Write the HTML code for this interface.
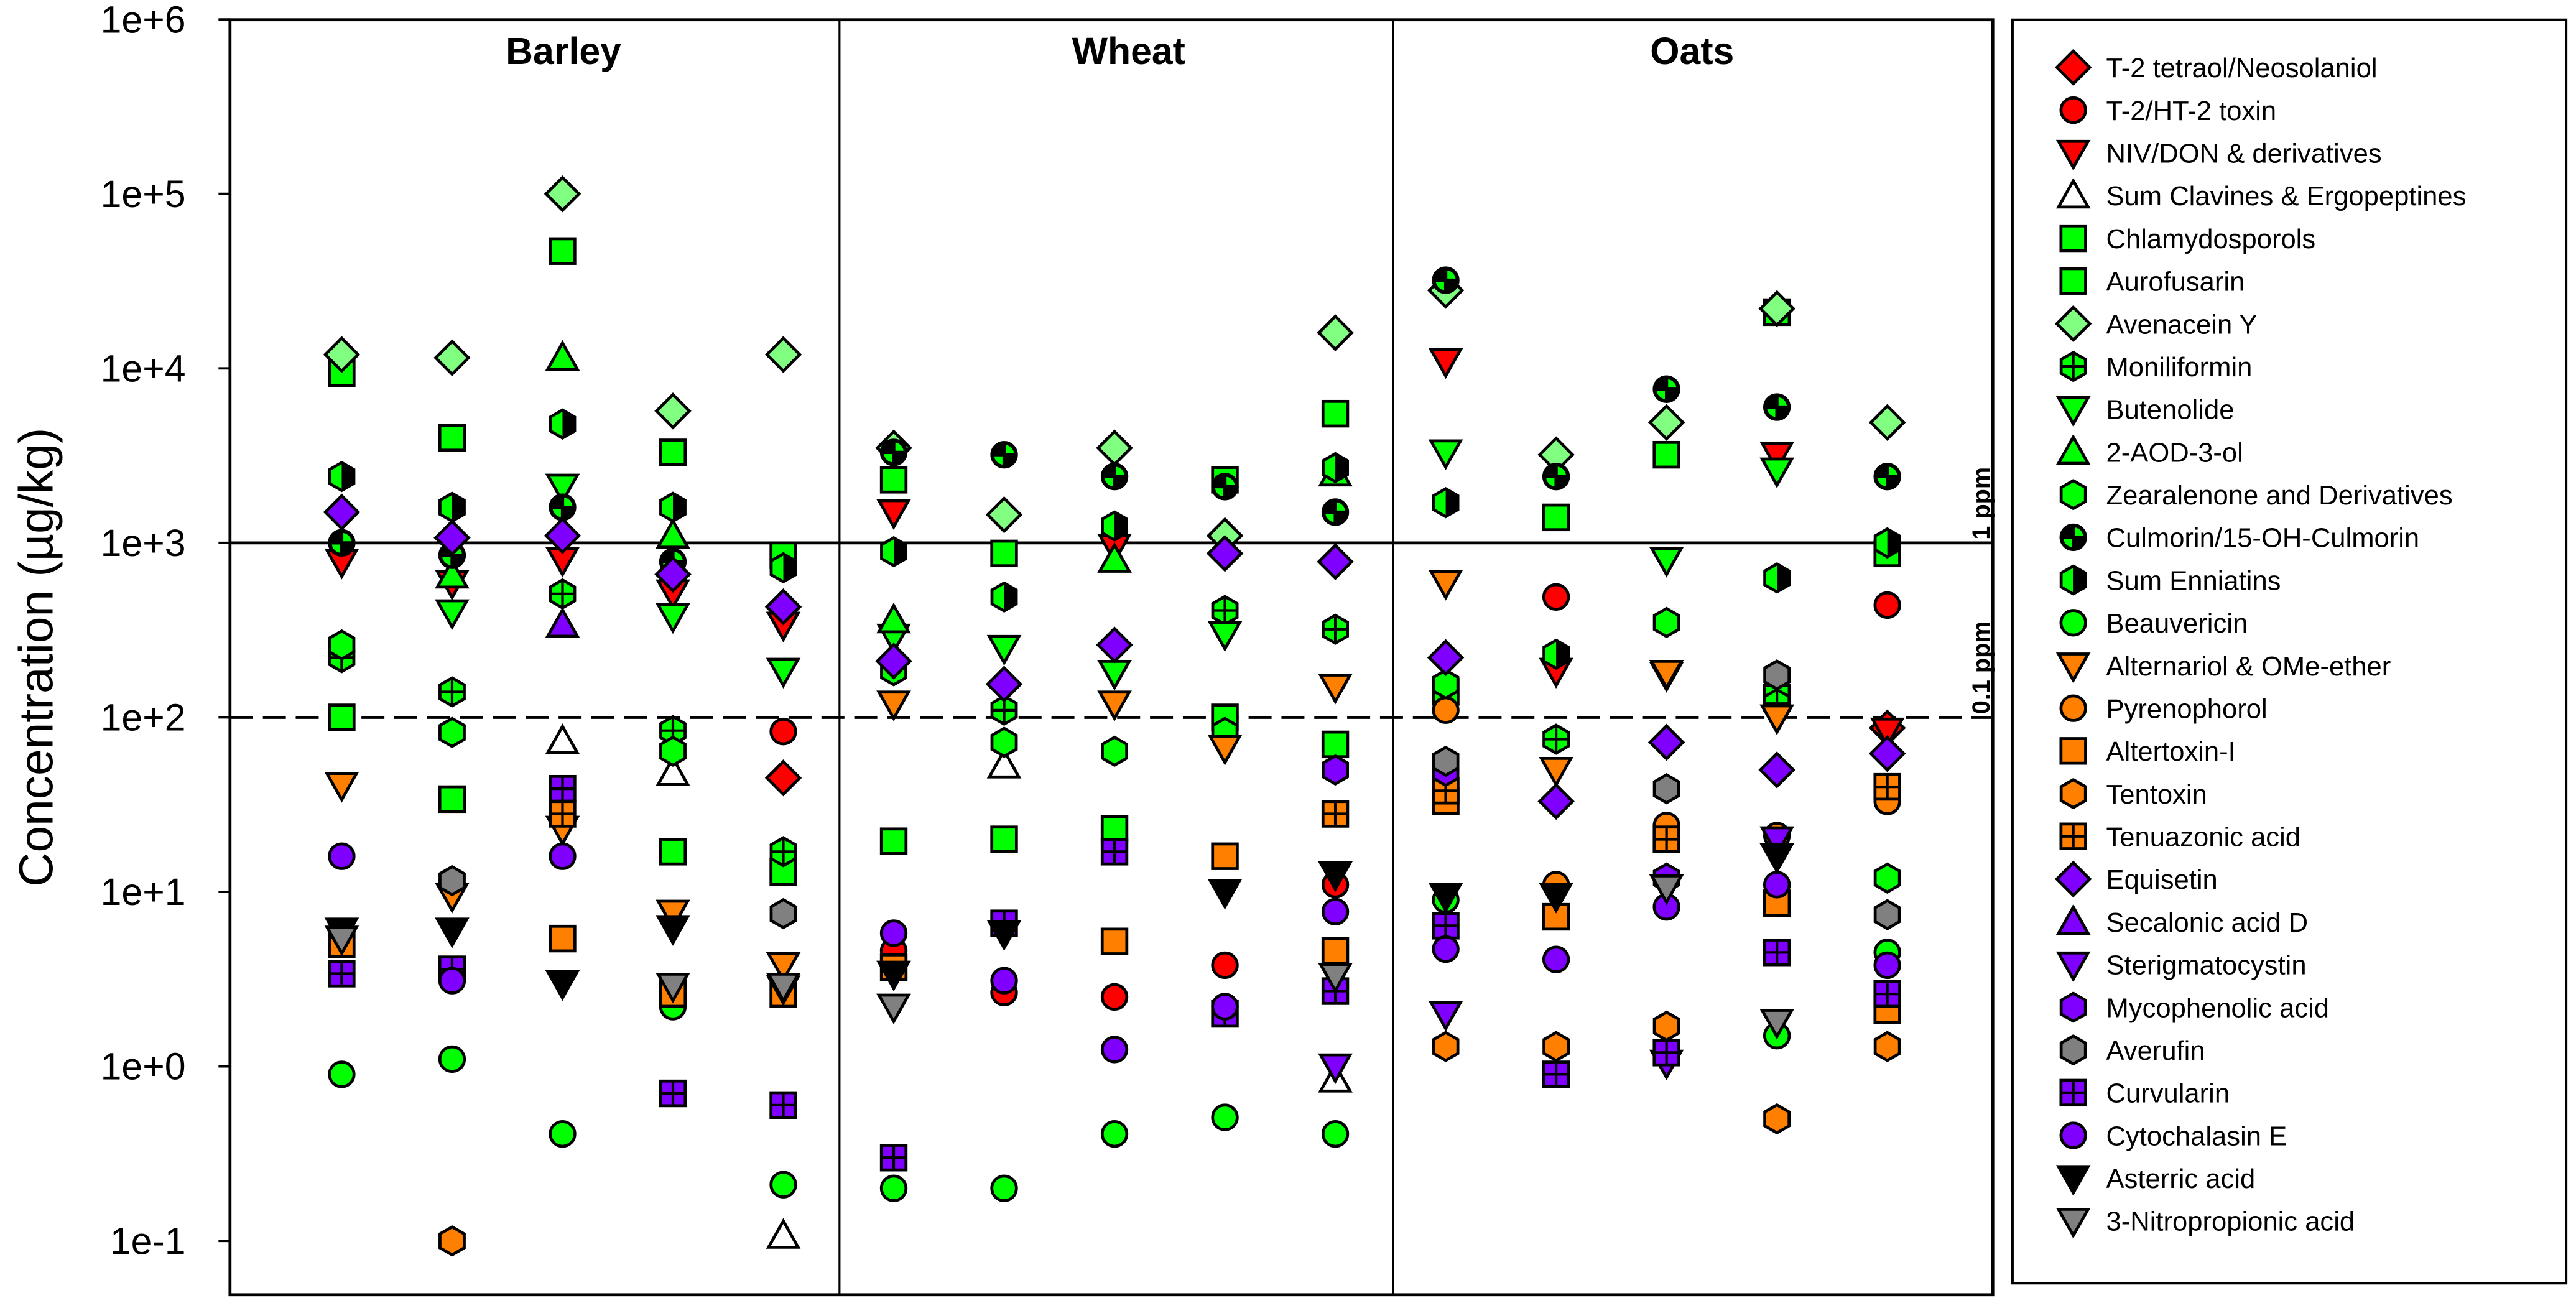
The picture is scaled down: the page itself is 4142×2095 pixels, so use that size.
<!DOCTYPE html>
<html><head><meta charset="utf-8"><style>
html,body{margin:0;padding:0;background:#fff;}
svg{display:block;}
text{font-family:"Liberation Sans",Arial,sans-serif;}
</style></head><body>
<svg id="chart" width="4142" height="2095" viewBox="0 0 1568 793" preserveAspectRatio="none" xmlns="http://www.w3.org/2000/svg">
<g id="axes"></g>
<g id="marks"></g>
<g id="legend"></g>
</svg>
<script>
const NS="http://www.w3.org/2000/svg";
const panels=["Barley","Wheat","Oats"];
const yTicks=[-1,0,1,2,3,4,5,6];
const tickLabels=["1e-1","1e+0","1e+1","1e+2","1e+3","1e+4","1e+5","1e+6"];
const compounds=["T-2 tetraol/Neosolaniol","T-2/HT-2 toxin","NIV/DON & derivatives","Sum Clavines & Ergopeptines","Chlamydosporols","Aurofusarin","Avenacein Y","Moniliformin","Butenolide","2-AOD-3-ol","Zearalenone and Derivatives","Culmorin/15-OH-Culmorin","Sum Enniatins","Beauvericin","Alternariol & OMe-ether","Pyrenophorol","Altertoxin-I","Tentoxin","Tenuazonic acid","Equisetin","Secalonic acid D","Sterigmatocystin","Mycophenolic acid","Averufin","Curvularin","Cytochalasin E","Asterric acid","3-Nitropropionic acid"];
const n=null;
const vT2T=[n,n,n,n,45, n,n,n,n,n, n,n,n,n,87];
const vT2=[n,n,n,n,83, 4.6,2.65,2.5,3.8,11, n,490,n,n,440];
const vNIV=[780,590,800,520,340, 1500,n,950,n,n, 11000,185,175,3200,84];
const vClav=[n,n,73,48,0.107, n,53,n,n,0.84, n,n,n,n,n];
const vChlam=[9400,4000,47000,3300,850, 2300,870,n,2300,5500, 140,1400,3200,21000,870];
const vAuro=[100,34,n,17,13, 19.5,20,23,100,70, n,n,n,130,n];
const vAvY=[12000,11500,100000,5700,12000, 3500,1450,3500,1100,16000, 28000,3200,4900,22000,4900];
const vMonil=[220,140,510,84,17, n,110,n,410,320, n,75,n,120,n];
const vButen=[n,400,2100,380,185, 290,250,180,300,n, 3300,n,800,2600,n];
const vAOD=[n,650,11500,1100,n, 360,n,800,n,2500, n,n,n,n,n];
const vZEA=[260,82,n,64,n, 185,72,64,82,n, 155,n,350,n,12];
const vCulm=[1000,850,1600,780,n, 3300,3200,2400,2100,1500, 32000,2400,7600,6000,2400];
const vEnn=[2400,1600,4800,1600,720, 890,490,1250,n,2700, 1700,230,n,630,1000];
const vBeau=[0.9,1.1,0.41,2.2,0.21, 0.2,0.2,0.41,0.51,0.41, 9,n,n,1.5,4.5];
const vAltern=[41,9.5,23,7.6,3.8, 120,n,120,67,150, 590,50,180,100,n];
const vPyren=[n,n,n,n,n, n,n,n,n,n, 110,11,24,21,33];
const vAltertox=[5,n,5.4,2.6,2.6, 3.7,n,5.2,16,4.6, 33,7.2,n,8.6,2.1];
const vTentox=[n,0.1,n,n,n, n,n,n,n,n, 1.3,1.3,1.7,0.5,1.3];
const vTenuaz=[n,n,28,n,n, n,n,n,n,28, 38,n,20,n,40];
const vEquis=[1500,1070,1100,660,430, 210,155,260,870,780, 220,33,72,50,62];
const vSecal=[n,n,340,n,n, n,n,n,n,n, n,n,n,n,n];
const vSterig=[n,n,n,n,n, n,n,n,n,1.0, 2.0,n,1.05,20,n];
const vMycoph=[n,n,n,n,n, n,n,n,n,50, 49,n,12,n,n];
const vAveruf=[n,11.6,n,n,7.5, n,n,n,n,n, 56,n,39,175,7.4];
const vCurv=[3.4,3.6,39,0.7,0.6, 0.3,6.6,17,2.0,2.7, 6.4,0.9,1.2,4.5,2.6];
const vCytE=[16,3.1,16,n,n, 5.8,3.1,1.25,2.2,7.7, 4.7,4.1,8.2,11,3.8];
const vAsterric=[6,6,3.0,6.2,2.8, 3.4,5.8,n,10,12.6, 9.5,9.5,n,16,n];
const vNPA=[5.4,n,n,2.9,2.9, 2.2,n,n,n,3.3, n,n,10.6,1.8,n];

const series=[vT2T,vT2,vNIV,vClav,vChlam,vAuro,vAvY,vMonil,vButen,vAOD,vZEA,vCulm,vEnn,vBeau,vAltern,vPyren,vAltertox,vTentox,vTenuaz,vEquis,vSecal,vSterig,vMycoph,vAveruf,vCurv,vCytE,vAsterric,vNPA];
const R="#ff0000",G="#00ff00",LG="#80ff80",O="#ff8000",P="#8000ff",GR="#808080",K="#000000",W="#ffffff";
const styles=[["diamond",R],["circle",R],["down",R],["up",W],["square",G],["square",G],["diamond",LG],["hexcross",G],["down",G],["up",G],["hex",G],["culm",G],["enn",G],["circle",G],["down",O],["circle",O],["square",O],["hex",O],["squarecross",O],["diamond",P],["up",P],["down",P],["hex",P],["hex",GR],["squarecross",P],["circle",P],["down",K],["down",GR]];

const PL=140,PR=1213,PT=12,PB=788;
function yScale(v){return 649-106.2*Math.log10(v);}
function xCol(i){return 208+i*67.2;}

function el(tag,attrs,parent){const e=document.createElementNS(NS,tag);for(const a in attrs)e.setAttribute(a,attrs[a]);parent.appendChild(e);return e;}

function marker(parent,type,fill,cx,cy){
  const g=el("g",{},parent);
  const sw=1.8,r=8.5;
  const hexPts=s=>[[0,-s],[.87*s,-s/2],[.87*s,s/2],[0,s],[-.87*s,s/2],[-.87*s,-s/2]].map(p=>(cx+p[0])+","+(cy+p[1])).join(" ");
  if(type==="diamond"){el("polygon",{points:`${cx},${cy-10} ${cx+10},${cy} ${cx},${cy+10} ${cx-10},${cy}`,fill,stroke:K,"stroke-width":sw},g);}
  else if(type==="circle"){el("circle",{cx,cy,r:7.5,fill,stroke:K,"stroke-width":sw},g);}
  else if(type==="down"){el("polygon",{points:`${cx-9},${cy-7} ${cx+9},${cy-7} ${cx},${cy+9}`,fill,stroke:K,"stroke-width":sw},g);}
  else if(type==="up"){el("polygon",{points:`${cx-9},${cy+7} ${cx+9},${cy+7} ${cx},${cy-9}`,fill,stroke:K,"stroke-width":sw},g);}
  else if(type==="square"||type==="squarecross"){el("rect",{x:cx-7.5,y:cy-7.5,width:15,height:15,fill,stroke:K,"stroke-width":sw},g);
    if(type==="squarecross"){el("line",{x1:cx,y1:cy-7.5,x2:cx,y2:cy+7.5,stroke:K,"stroke-width":1.6},g);el("line",{x1:cx-7.5,y1:cy,x2:cx+7.5,y2:cy,stroke:K,"stroke-width":1.6},g);}}
  else if(type==="hex"||type==="hexcross"){el("polygon",{points:hexPts(r),fill,stroke:K,"stroke-width":sw},g);
    if(type==="hexcross"){el("line",{x1:cx,y1:cy-r,x2:cx,y2:cy+r,stroke:K,"stroke-width":1.6},g);el("line",{x1:cx-7.4,y1:cy,x2:cx+7.4,y2:cy,stroke:K,"stroke-width":1.6},g);}}
  else if(type==="enn"){el("polygon",{points:hexPts(r),fill:G,stroke:K,"stroke-width":sw},g);
    el("polygon",{points:`${cx},${cy-r} ${cx+.87*r},${cy-r/2} ${cx+.87*r},${cy+r/2} ${cx},${cy+r}`,fill:K},g);}
  else if(type==="culm"){el("circle",{cx,cy,r:7.5,fill:K,stroke:K,"stroke-width":sw},g);
    el("path",{d:`M${cx+1},${cy-1} L${cx+1},${cy-6} A6,6 0 0 1 ${cx+6},${cy-1} Z`,fill:G},g);
    el("path",{d:`M${cx-1},${cy+1} L${cx-1},${cy+6} A6,6 0 0 1 ${cx-6},${cy+1} Z`,fill:G},g);}
  return g;
}

const axes=document.getElementById("axes");
const marks=document.getElementById("marks");
const legend=document.getElementById("legend");

const l1=el("line",{x1:PL,x2:PR,y1:yScale(1000),y2:yScale(1000),stroke:K,"stroke-width":1.8},axes);


const l2=el("line",{x1:PL,x2:PR,y1:yScale(100),y2:yScale(100),stroke:K,"stroke-width":1.8,"stroke-dasharray":"14,6"},axes);


[511,848].forEach(x=>{const d=el("line",{x1:x,x2:x,y1:PT,y2:PB,stroke:K,"stroke-width":1.2},axes);

});
const fr=el("rect",{x:PL,y:PT,width:PR-PL,height:PB-PT,fill:"none",stroke:K,"stroke-width":1.8},axes);


yTicks.forEach((t,i)=>{const y=yScale(Math.pow(10,t));
  const tk=el("line",{x1:PL-7,x2:PL,y1:y,y2:y,stroke:K,"stroke-width":1.5},axes);
  
  
  const tx=el("text",{x:113,y:y+8,"text-anchor":"end","font-size":23},axes);tx.textContent=tickLabels[i];
  
  
});
const yt=el("text",{x:0,y:0,transform:"translate(32,400) rotate(-90)","text-anchor":"middle","font-size":29},axes);
yt.textContent="Concentration (µg/kg)";


panels.forEach((p,i)=>{const cx=[343,687,1030][i];const t=el("text",{x:cx,y:39,"text-anchor":"middle","font-size":23,"font-weight":"bold"},axes);t.textContent=p;

});
const pp1=el("text",{x:0,y:0,transform:`translate(1211,${yScale(1000)-2}) rotate(-90)`,"font-size":15,"font-weight":"bold"},axes);pp1.textContent="1 ppm";


const pp2=el("text",{x:0,y:0,transform:`translate(1211,${yScale(100)-2}) rotate(-90)`,"font-size":15,"font-weight":"bold"},axes);pp2.textContent="0.1 ppm";



series.forEach((arr,si)=>{arr.forEach((v,ci)=>{if(v==null)return;
  const m=marker(marks,styles[si][0],styles[si][1],xCol(ci),yScale(v));
  
  
});});

const lb=el("rect",{x:1225,y:12,width:337,height:769,fill:W,stroke:K,"stroke-width":1.5},legend);


compounds.forEach((c,i)=>{const y=41+i*26;
  const g=el("g",{},legend);
  
  
  marker(g,styles[i][0],styles[i][1],1262,y);
  const t=el("text",{x:1282,y:y+6,"font-size":16.5},g);t.textContent=c;
});
</script>
</body></html>
